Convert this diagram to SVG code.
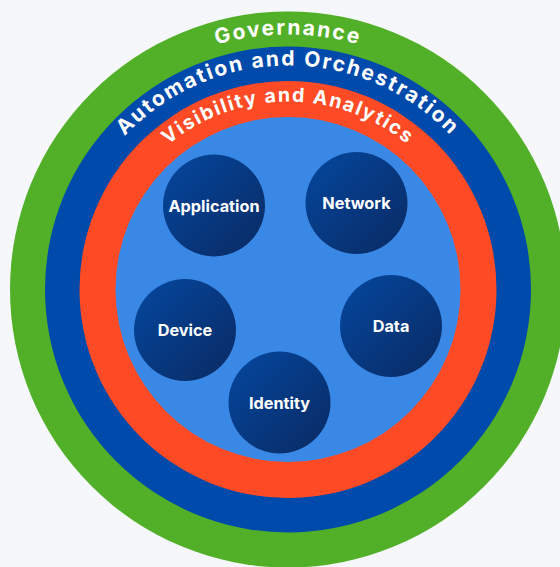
<svg xmlns="http://www.w3.org/2000/svg" width="560" height="567" viewBox="0 0 560 567">
  <defs>
    <linearGradient id="nodeGrad" x1="0" y1="0" x2="1" y2="1">
      <stop offset="0" stop-color="#04479f"/>
      <stop offset="1" stop-color="#0a2a62"/>
    </linearGradient>
    <path id="arcGov" d="M 33 289.5 A 255 255 0 0 1 543 289.5"/>
    <path id="arcAuto" d="M 64 289.5 A 224 224 0 0 1 512 289.5"/>
    <path id="arcVis" d="M 100 289.5 A 188 188 0 0 1 476 289.5"/>
    <style>
      .ring-label { font-family: Inter, "Noto Sans", "DejaVu Sans", sans-serif; font-weight: 700; fill: #ffffff; }
      .node-circle { fill: url(#nodeGrad); }
      .node-label { font-family: Inter, "Noto Sans", "DejaVu Sans", sans-serif; font-weight: 700; font-size: 16.3px; fill: #ffffff; text-anchor: middle; dominant-baseline: central; }
    </style>
  </defs>
  <rect width="560" height="567" fill="#f5f7fa"/>

  <g id="ring-governance">
    <circle cx="288" cy="289.5" r="278" fill="#52b028"/>
    <text class="ring-label" font-size="21" letter-spacing="2"><textPath href="#arcGov" startOffset="50%" text-anchor="middle">Governance</textPath></text>
  </g>
  <g id="ring-automation">
    <circle cx="288" cy="289.5" r="243" fill="#004aab"/>
    <text class="ring-label" font-size="21" letter-spacing="2"><textPath href="#arcAuto" startOffset="50%" text-anchor="middle">Automation and Orchestration</textPath></text>
  </g>
  <g id="ring-visibility">
    <circle cx="288" cy="289.5" r="208.5" fill="#fe4a25"/>
    <text class="ring-label" font-size="19.5" letter-spacing="1.7"><textPath href="#arcVis" startOffset="50%" text-anchor="middle">Visibility and Analytics</textPath></text>
  </g>
  <g id="core">
    <circle cx="288" cy="289.5" r="172.5" fill="#3a88e6"/>
  </g>

  <g id="node-application">
    <circle class="node-circle" cx="214" cy="205.5" r="51"/>
    <text class="node-label" x="214" y="205.5">Application</text>
  </g>
  <g id="node-network">
    <circle class="node-circle" cx="356.5" cy="203" r="51"/>
    <text class="node-label" x="356.5" y="203">Network</text>
  </g>
  <g id="node-device">
    <circle class="node-circle" cx="185" cy="330" r="51"/>
    <text class="node-label" x="185" y="330">Device</text>
  </g>
  <g id="node-data">
    <circle class="node-circle" cx="391" cy="326" r="51"/>
    <text class="node-label" x="391" y="326">Data</text>
  </g>
  <g id="node-identity">
    <circle class="node-circle" cx="279.5" cy="402.5" r="51"/>
    <text class="node-label" x="279.5" y="402.5">Identity</text>
  </g>
  <g id="connectors"/>
</svg>
